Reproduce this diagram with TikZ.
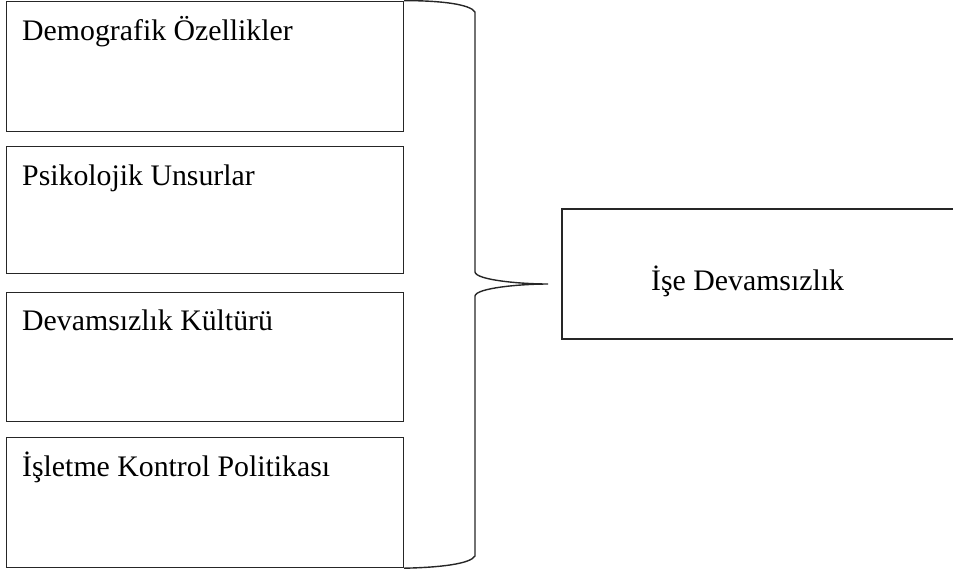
\documentclass[tikz,border=0pt]{standalone}
\usepackage{fontspec}
\setmainfont{Liberation Serif}
\begin{document}
\begin{tikzpicture}[x=1pt,y=-1pt,
  box/.style={draw=black!85, line width=1.2pt, rectangle, inner sep=0pt, anchor=north west},
  lbl/.style={inner sep=0pt, anchor=base west, font=\fontsize{29.8}{33}\selectfont},
  brace/.style={draw=black!85, line width=1.4pt}]
\useasboundingbox (0,0) rectangle (953,574);
% four factor boxes on the left
\node[box, minimum width=397, minimum height=130] (b1) at (6,0.6) {};
\node[box, minimum width=397, minimum height=127] (b2) at (6,146) {};
\node[box, minimum width=397, minimum height=129] (b3) at (6,292) {};
\node[box, minimum width=397, minimum height=130] (b4) at (6,437) {};
\node[lbl] (t1) at (22,40) {Demografik Özellikler};
\node[lbl] (t2) at (22,185) {Psikolojik Unsurlar};
\node[lbl] (t3) at (22,330) {Devamsızlık Kültürü};
\node[lbl] (t4) at (22,476) {İşletme Kontrol Politikası};
% outcome box, open towards the right edge
\coordinate (rt) at (956,209);
\coordinate (rb) at (956,339);
\draw[draw=black!85, line width=1.2pt] (rt) -- (562,209) -- (562,339) -- (rb);
\node[lbl] (t5) at (651,290) {İşe Devamsızlık};
% curly brace joining the factors
\coordinate (tip) at (548,284);
\draw[brace] (b1.north east) .. controls (440,0.6) and (470,4) .. (475,12)
  -- (475,272) .. controls (476,280) and (520,284) .. (tip)
  .. controls (520,284) and (476,288) .. (475,296)
  -- (475,556) .. controls (470,564) and (440,567.4) .. (b4.south east);
\end{tikzpicture}
\end{document}
